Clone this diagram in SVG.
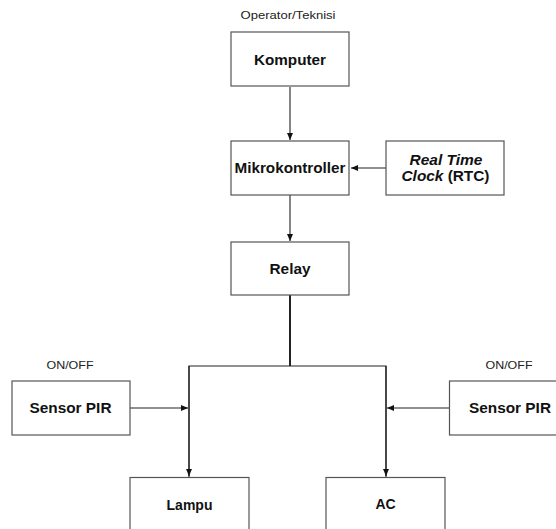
<svg xmlns="http://www.w3.org/2000/svg" width="556" height="529" viewBox="0 0 556 529">
<style>
.box{fill:#fff;stroke:#555;stroke-width:1.2}
.lbl{font-family:"Liberation Sans",Arial,sans-serif;font-weight:bold;font-size:14px;fill:#111;text-anchor:middle}
.cap{font-family:"Liberation Sans",Arial,sans-serif;font-size:10.5px;fill:#222;text-anchor:middle}
.con{fill:none;stroke:#222;stroke-width:1.1}
</style>
<defs>
<marker id="ah" markerUnits="userSpaceOnUse" markerWidth="8" markerHeight="8" refX="7" refY="3" orient="auto">
<path d="M0,0 L7,3 L0,6 Z" fill="#111"/>
</marker>
</defs>
<rect width="556" height="529" fill="#fff"/>
<g id="connectors">
<line class="con" x1="290" y1="87" x2="290" y2="140" marker-end="url(#ah)"/>
<line class="con" x1="290" y1="195" x2="290" y2="241" marker-end="url(#ah)"/>
<line class="con" x1="386" y1="168" x2="351" y2="168" marker-end="url(#ah)"/>
<line class="con" x1="290" y1="295" x2="290" y2="366" style="stroke-width:2"/>
<polyline class="con" points="189,477 189,366 386,366 386,477" style="stroke-width:1.2"/>
<line class="con" x1="189" y1="366" x2="189" y2="476" marker-end="url(#ah)"/>
<line class="con" x1="386" y1="366" x2="386" y2="476" marker-end="url(#ah)"/>
<line class="con" x1="130" y1="408" x2="188" y2="408" marker-end="url(#ah)"/>
<line class="con" x1="449" y1="408" x2="387" y2="408" marker-end="url(#ah)"/>
</g>
<g id="operator">
<text class="cap" x="288" y="19" textLength="95" lengthAdjust="spacingAndGlyphs">Operator/Teknisi</text>
</g>
<g id="komputer">
<rect class="box" x="231" y="32" width="118" height="54"/>
<text class="lbl" x="290" y="65" textLength="72" lengthAdjust="spacingAndGlyphs">Komputer</text>
</g>
<g id="mikrokontroller">
<rect class="box" x="231" y="141" width="118" height="54"/>
<text class="lbl" x="290" y="173" textLength="111" lengthAdjust="spacingAndGlyphs">Mikrokontroller</text>
</g>
<g id="rtc">
<rect class="box" x="386" y="141" width="118" height="54"/>
<text class="lbl" x="446" y="165" font-style="italic" textLength="73" lengthAdjust="spacingAndGlyphs">Real Time</text>
<text class="lbl" x="445.5" y="181" textLength="88" lengthAdjust="spacingAndGlyphs"><tspan font-style="italic">Clock</tspan> (RTC)</text>
</g>
<g id="relay">
<rect class="box" x="231" y="242" width="118" height="53"/>
<text class="lbl" x="290" y="274" textLength="41" lengthAdjust="spacingAndGlyphs">Relay</text>
</g>
<g id="sensor-left">
<text class="cap" x="70" y="369" textLength="47" lengthAdjust="spacingAndGlyphs">ON/OFF</text>
<rect class="box" x="12" y="381" width="118" height="54"/>
<text class="lbl" x="70.5" y="413" textLength="82" lengthAdjust="spacingAndGlyphs">Sensor PIR</text>
</g>
<g id="sensor-right">
<text class="cap" x="509" y="369" textLength="47" lengthAdjust="spacingAndGlyphs">ON/OFF</text>
<rect class="box" x="449.5" y="381" width="118" height="54"/>
<text class="lbl" x="510" y="413" textLength="82" lengthAdjust="spacingAndGlyphs">Sensor PIR</text>
</g>
<g id="lampu">
<rect class="box" x="130" y="477.5" width="119" height="60"/>
<text class="lbl" x="189.5" y="510">Lampu</text>
</g>
<g id="ac">
<rect class="box" x="326" y="477.5" width="119" height="60"/>
<text class="lbl" x="385.5" y="509">AC</text>
</g>
</svg>
